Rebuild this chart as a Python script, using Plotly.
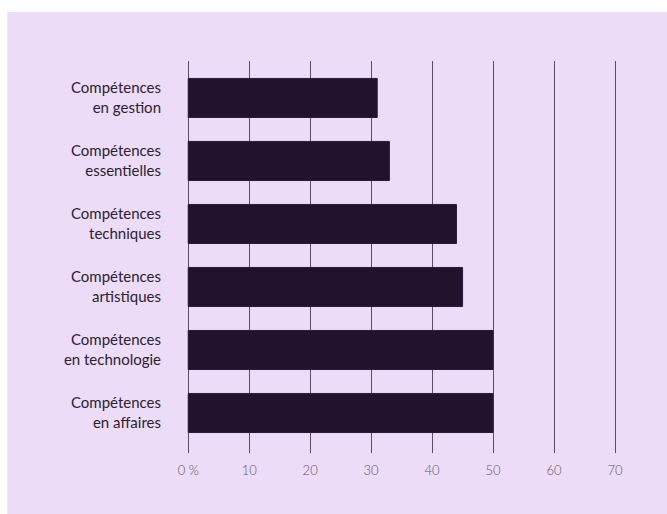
import plotly.graph_objects as go

categories = [
    "Compétences<br>en gestion",
    "Compétences<br>essentielles",
    "Compétences<br>techniques",
    "Compétences<br>artistiques",
    "Compétences<br>en technologie",
    "Compétences<br>en affaires",
]
values = [31, 33, 44, 45, 50, 50]
tick_vals = [0, 10, 20, 30, 40, 50, 60, 70]
tick_text = ["0 %", "10", "20", "30", "40", "50", "60", "70"]

W, H = 667, 514
ml, mr, mt = 188, 21, 61
ph = 392
mb = H - mt - ph
ppu = 6.1
xmin = -0.2
lm = ml + xmin * ppu
pw = W - lm - mr


def px_x(x):
    return (x - lm) / pw


def px_y(y):
    return (H - mb - y) / ph


fig = go.Figure(
    go.Bar(
        x=values,
        y=categories,
        orientation="h",
        marker=dict(color="#22122d", line=dict(color="#2e1a3e", width=1)),
        width=0.62,
        hoverinfo="skip",
    )
)

# white strips along the top and left edges
fig.add_shape(
    type="rect", xref="paper", yref="paper",
    x0=px_x(-10), x1=px_x(W + 10), y0=px_y(12), y1=px_y(-10),
    fillcolor="white", line=dict(width=0), layer="below",
)
fig.add_shape(
    type="rect", xref="paper", yref="paper",
    x0=px_x(-10), x1=px_x(7), y0=px_y(H + 10), y1=px_y(-10),
    fillcolor="white", line=dict(width=0), layer="below",
)

fig.update_layout(
    width=W, height=H,
    margin=dict(l=lm, r=mr, t=mt, b=mb),
    paper_bgcolor="#ecdcf7",
    plot_bgcolor="rgba(0,0,0,0)",
    showlegend=False,
    font=dict(family="Lato", color="#2b2233"),
)
fig.update_xaxes(
    range=[xmin, xmin + pw / ppu],
    tickvals=tick_vals,
    ticktext=tick_text,
    showgrid=True,
    gridcolor="#5e4b6b",
    gridwidth=1.2,
    zeroline=False,
    showline=False,
    ticks="",
    ticklabelstandoff=8,
    tickfont=dict(family="Lato", size=13, color="#5f5468", weight=300),
    fixedrange=True,
)
fig.update_yaxes(
    range=[5.635, -0.587],
    showgrid=False,
    zeroline=False,
    showline=False,
    ticks="",
    ticklabelstandoff=25,
    tickfont=dict(family="Lato", size=15, color="#2b2233"),
    fixedrange=True,
)

fig.write_html(
    "out.html",
    config={"displayModeBar": False},
    post_script="document.body.style.margin='0';document.body.style.overflow='hidden';",
)
